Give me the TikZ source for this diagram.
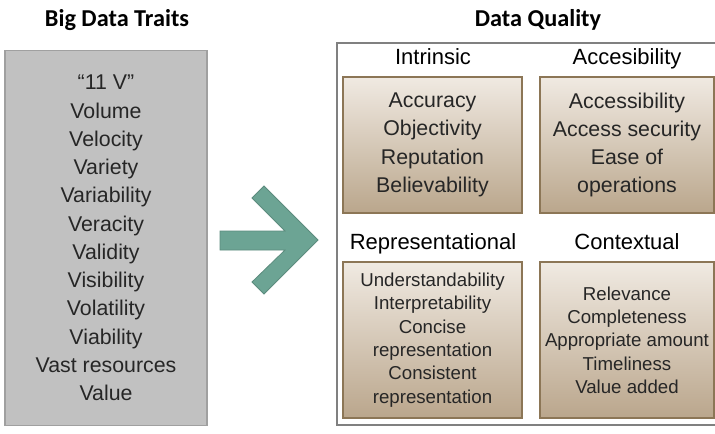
\documentclass[tikz,border=0pt]{standalone}
\usepackage{fontspec}
\setmainfont{Liberation Sans}
\newfontfamily\titlefont{Carlito}
\definecolor{arrowteal}{RGB}{108,164,148}
\definecolor{arrowedge}{RGB}{92,140,126}
\definecolor{tantop}{RGB}{240,234,226}
\definecolor{tanbot}{RGB}{186,166,140}
\definecolor{tanedge}{RGB}{140,118,86}
\definecolor{grayfill}{RGB}{193,193,193}
\definecolor{grayedge}{RGB}{160,160,160}
\definecolor{txtcol}{RGB}{38,38,38}
\begin{document}
\begin{tikzpicture}[x=0.75pt,y=-0.75pt,
  txt/.style={text=txtcol, align=center, inner sep=0pt},
  graybox/.style={draw=grayedge, fill=grayfill, line width=1.2pt, inner sep=0pt, txt,
     font=\fontsize{16}{21.2}\selectfont},
  tanbox/.style={draw=tanedge, line width=1.5pt, top color=tantop, bottom color=tanbot, inner sep=0pt, txt},
  bigtxt/.style={font=\fontsize{16}{21.2}\selectfont},
  smalltxt/.style={font=\fontsize{14}{17.5}\selectfont},
  headtxt/.style={txt, text=black, anchor=base, font=\fontsize{16.5}{18}\selectfont},
  ttl/.style={txt, text=black, anchor=base, font=\titlefont\bfseries\fontsize{18.2}{20}\selectfont},
  arrowfill/.style={fill=arrowteal, draw=arrowedge, line width=0.6pt}
]
\useasboundingbox (0,0) rectangle (715,433);
\clip (0,0) rectangle (715,433);
\fill[white] (0,0) rectangle (715,433);

% titles
\node[ttl] (t1) at (117,26) {Big Data Traits};
\node[ttl] (t2) at (538,26) {Data Quality};

% left box
\node[graybox, minimum width=151.5pt, minimum height=281.25pt] (traits) at (106,238)
  {``11 V''\\Volume\\Velocity\\Variety\\Variability\\Veracity\\Validity\\Visibility\\Volatility\\Viability\\Vast resources\\Value};

% arrow
\filldraw[arrowfill] (220,231) -- (285,231) -- (252,198) -- (264,186) -- (318,240)
   -- (264,294) -- (252,282) -- (285,250) -- (220,250) -- cycle;

% outer box (right side runs past the picture edge)
\node[draw=black!50, line width=1.2pt, minimum width=292.5pt, minimum height=286.5pt, inner sep=0pt] (dq) at (532,234) {};

% headers
\node[headtxt] (h1) at (433,64) {Intrinsic};
\node[headtxt] (h2) at (627,64) {Accesibility};
\node[headtxt] (h3) at (433,249) {Representational};
\node[headtxt] (h4) at (627,249) {Contextual};

% inner boxes
\node[tanbox, bigtxt, minimum width=134.25pt, minimum height=102pt] (b1) at (432.5,145)
  {Accuracy\\Objectivity\\Reputation\\Believability};
\node[tanbox, bigtxt, minimum width=130.5pt, minimum height=102pt] (b2) at (627,145)
  {Accessibility\\Access security\\Ease of\\operations};
\node[tanbox, smalltxt, minimum width=134.25pt, minimum height=117pt] (b3) at (432.5,340)
  {Understandability\\Interpretability\\Concise\\representation\\Consistent\\representation};
\node[tanbox, smalltxt, minimum width=130.5pt, minimum height=117pt] (b4) at (627,340)
  {Relevance\\Completeness\\Appropriate amount\\Timeliness\\Value added};
\end{tikzpicture}
\end{document}
